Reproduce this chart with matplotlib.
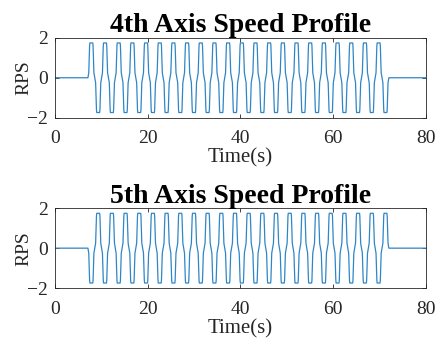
import matplotlib
matplotlib.use("Agg")
import matplotlib.pyplot as plt

# Data
titles = ["4th Axis Speed Profile", "5th Axis Speed Profile"]
xlabel = "Time(s)"
ylabel = "RPS"
xticks = [0, 20, 40, 60, 80]
yticks = [-2, 0, 2]
t_start = 0.0
t_end = 80.0
# start times of each oscillation cycle (s)
cycle_starts = [7.1, 10.05, 13.0, 15.95, 18.9, 21.85, 24.8, 27.75, 30.7, 33.65, 36.6,
                39.55, 42.5, 45.45, 48.4, 51.35, 54.3, 57.25, 60.2, 63.15, 66.1, 69.05]
# shape of one cycle: time offsets (s) and speed (RPS)
cycle_offsets = [0.0, 0.18, 0.36, 0.42, 1.05, 1.11, 1.29, 1.475, 1.66, 1.84, 1.9, 2.53, 2.59, 2.77, 2.95]
cycle_values_4th = [0.0, 0.25, 1.6, 1.75, 1.75, 1.6, 0.25, 0.0, -0.25, -1.6, -1.75, -1.75, -1.6, -0.25, 0.0]
cycle_values_5th = [0.0, -0.25, -1.6, -1.75, -1.75, -1.6, -0.25, 0.0, 0.25, 1.6, 1.75, 1.75, 1.6, 0.25, 0.0]

def build(values):
    t = [t_start]
    v = [0.0]
    for s in cycle_starts:
        t.extend([s + o for o in cycle_offsets])
        v.extend(values)
    t.append(t_end)
    v.append(0.0)
    return t, v

series = [build(cycle_values_4th), build(cycle_values_5th)]

plt.rcParams['font.family'] = ['Liberation Serif', 'DejaVu Serif']
fig = plt.figure(figsize=(4.39, 3.45), dpi=100)
positions = [[0.1253, 0.6594, 0.845, 0.2305], [0.1253, 0.1652, 0.845, 0.231]]
dark = '#262626'
for pos, title, (t, v) in zip(positions, titles, series):
    ax = fig.add_axes(pos)
    ax.plot(t, v, color='#2f86c6', linewidth=0.9)
    ax.set_xlim(0, 80)
    ax.set_ylim(-2, 2)
    ax.set_xticks(xticks)
    ax.set_yticks(yticks)
    ax.tick_params(direction='in', top=True, right=True, labelsize=14, colors=dark,
                   length=3, width=0.6)
    ax.tick_params(axis='x', pad=9)
    ax.tick_params(axis='y', pad=5)
    for sp in ax.spines.values():
        sp.set_color(dark)
        sp.set_linewidth(0.6)
    ax.set_title(title, fontsize=20, fontweight='bold', pad=4)
    ax.set_xlabel(xlabel, fontsize=15, color=dark, labelpad=1)
    ax.set_ylabel(ylabel, fontsize=14, color=dark, labelpad=-4)

fig.savefig("out.png", dpi=100)
